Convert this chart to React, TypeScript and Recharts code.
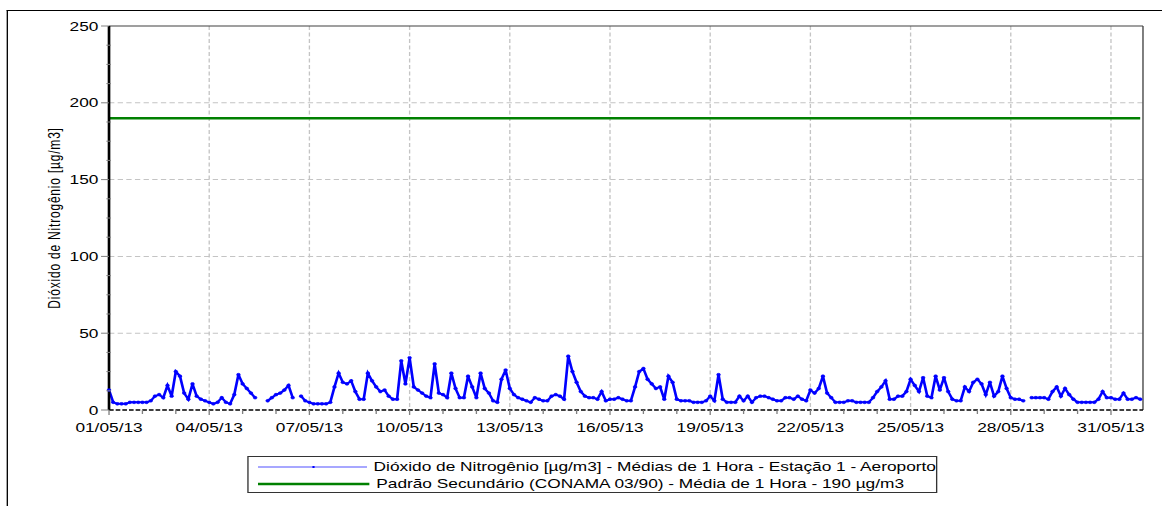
import { LineChart, Line, XAxis, YAxis, CartesianGrid, ReferenceLine } from 'recharts';

// the source image is stretched sideways, so the chart is drawn narrower and scaled in x
const W0 = 874;
const SX = 1162 / W0;
const FONT = '"Liberation Sans", Arial, sans-serif';

const STEP_HOURS = 3;
const LAST_HOUR = 743;
const LIMIT = 190;

const dateLabels = [
  '01/05/13', '04/05/13', '07/05/13', '10/05/13', '13/05/13', '16/05/13',
  '19/05/13', '22/05/13', '25/05/13', '28/05/13', '31/05/13',
];
const yTicks = [0, 12.5, 25, 37.5, 50, 62.5, 75, 87.5, 100, 112.5, 125, 137.5, 150, 162.5, 175, 187.5, 200, 212.5, 225, 237.5, 250];
const yGrid = [50, 100, 150, 200];
const dayTicks = Array.from({ length: 31 }, (_, d) => d * 24);
const majorDayTicks = dayTicks.filter((_, d) => d % 3 === 0);

// NO2, one value every 3 hours (00h, 03h, ... 21h), null = no data
const no2: (number | null)[] = [
  13, 5, 4, 4, 4, 5, 5, 5, // 01
  5, 5, 6, 9, 10, 8, 16, 9, // 02
  25, 22, 11, 7, 17, 9, 7, 6, // 03
  5, 4, 5, 8, 5, 4, 10, 23, // 04
  17, 14, 11, 8, null, null, 6, 8, // 05
  10, 11, 13, 16, 8, null, 9, 6, // 06
  5, 4, 4, 4, 4, 5, 15, 24, // 07
  18, 17, 19, 12, 7, 7, 24, 19, // 08
  15, 12, 13, 9, 7, 7, 32, 17, // 09
  34, 15, 13, 11, 9, 8, 30, 11, // 10
  10, 8, 24, 14, 8, 8, 22, 15, // 11
  8, 24, 14, 11, 6, 5, 20, 26, // 12
  14, 10, 8, 7, 6, 5, 8, 7, // 13
  6, 6, 9, 10, 9, 7, 35, 25, // 14
  18, 12, 9, 8, 8, 7, 12, 6, // 15
  7, 7, 8, 7, 6, 6, 15, 25, // 16
  27, 20, 17, 14, 15, 7, 22, 18, // 17
  7, 6, 6, 6, 5, 5, 5, 6, // 18
  9, 6, 23, 7, 5, 5, 5, 9, // 19
  6, 9, 5, 8, 9, 9, 8, 7, // 20
  6, 6, 8, 8, 7, 9, 7, 6, // 21
  13, 11, 14, 22, 11, 8, 5, 5, // 22
  5, 6, 6, 5, 5, 5, 5, 8, // 23
  12, 15, 19, 7, 7, 9, 9, 12, // 24
  20, 16, 12, 21, 9, 8, 22, 13, // 25
  21, 12, 7, 6, 6, 15, 12, 18, // 26
  20, 17, 10, 18, 9, 12, 22, 14, // 27
  8, 7, 7, 6, null, 8, 8, 8, // 28
  8, 7, 12, 15, 9, 14, 10, 7, // 29
  5, 5, 5, 5, 5, 7, 12, 8, // 30
  8, 7, 7, 11, 7, 7, 8, 7, // 31
];

const NO2_NAME = 'Dióxido de Nitrogênio [µg/m3] - Médias de 1 Hora - Estação 1 - Aeroporto';
const LIMIT_NAME = 'Padrão Secundário (CONAMA 03/90) - Média de 1 Hora - 190 µg/m3';
const Y_TITLE = 'Dióxido de Nitrogênio [µg/m3]';

const data = no2.map((v, i) => ({ hour: i * STEP_HOURS, no2: v, limit: LIMIT }));

const XTick = ({ x, y, payload }: any) => {
  const day = payload.value / 24;
  const major = day % 3 === 0;
  return (
    <g>
      <line x1={x} x2={x} y1={y} y2={y + (major ? 5 : 4)} stroke="#808080" />
      {major && (
        <text x={x} y={y + 22} textAnchor="middle" fontSize={13} fontFamily={FONT} fill="#000">
          {dateLabels[day / 3]}
        </text>
      )}
    </g>
  );
};

const YTick = ({ x, y, payload }: any) => {
  const major = payload.value % 50 === 0;
  return (
    <g>
      <line x1={major ? x - 6 : x - 2} x2={major ? x : x + 1.5} y1={y} y2={y} stroke="#808080" />
      {major && (
        <text x={x - 8} y={y} dy="0.35em" textAnchor="end" fontSize={13} fontFamily={FONT} fill="#000">
          {payload.value}
        </text>
      )}
    </g>
  );
};

const LegendBox = () => (
  <div
    style={{
      position: 'absolute',
      left: 186,
      top: 456,
      width: 519,
      height: 37,
      border: '1px solid #333',
      background: '#fff',
      fontFamily: FONT,
      fontSize: 13,
      color: '#000',
      boxSizing: 'border-box',
    }}
  >
    {[
      { name: NO2_NAME, color: '#5050ff', width: 1, dot: true },
      { name: LIMIT_NAME, color: '#008000', width: 2.5, dot: false },
    ].map((item, i) => (
      <div key={i} style={{ display: 'flex', alignItems: 'center', height: 17, marginTop: i === 0 ? 1 : 0 }}>
        <svg width={84} height={8} style={{ marginLeft: 7, marginRight: 5 }}>
          <line x1={0} x2={84} y1={4} y2={4} stroke={item.color} strokeWidth={item.width} />
          {item.dot && <rect x={41} y={3} width={1.6} height={2} fill="#0000ff" />}
        </svg>
        <span style={{ whiteSpace: 'nowrap', lineHeight: '17px' }}>{item.name}</span>
      </div>
    ))}
  </div>
);

export default function App() {
  return (
    <div style={{ position: 'absolute', left: 0, top: 0, width: 1162, height: 506, overflow: 'hidden', background: '#fff' }}>
      <div style={{ position: 'relative', width: W0, height: 506, transform: `scaleX(${SX})`, transformOrigin: '0 0' }}>
        <div
          style={{
            position: 'absolute',
            left: 4.5,
            top: 10,
            right: 0,
            bottom: 0,
            borderLeft: '1px solid #000',
            borderTop: '1px solid #000',
          }}
        />
        <LineChart width={W0} height={506} data={data} margin={{ top: 26, right: 14.3, bottom: 66, left: 0 }}>
          <CartesianGrid
            stroke="#c4c4c4"
            strokeDasharray="4 2.5"
            horizontalValues={yGrid}
            verticalValues={majorDayTicks}
          />
          <XAxis
            dataKey="hour"
            type="number"
            domain={[0, LAST_HOUR]}
            ticks={dayTicks}
            interval={0}
            tickLine={false}
            tickSize={0}
            tickMargin={0}
            height={30}
            axisLine={{ stroke: '#000', strokeWidth: 1.5, strokeDasharray: '3.5 1.5' }}
            tick={(p: any) => <XTick {...p} />}
          />
          <YAxis
            type="number"
            domain={[0, 250]}
            ticks={yTicks}
            interval={0}
            width={82}
            tickLine={false}
            tickSize={0}
            tickMargin={0}
            axisLine={{ stroke: '#000', strokeWidth: 2 }}
            tick={(p: any) => <YTick {...p} />}
            label={{
              value: Y_TITLE,
              angle: -90,
              position: 'center',
              dx: 0,
              style: { fontSize: 12, letterSpacing: 0.8, fontFamily: FONT, fill: '#000' },
            }}
          />
          <ReferenceLine y={250} stroke="#404040" />
          <ReferenceLine x={LAST_HOUR} stroke="#404040" />
          <Line
            dataKey="limit"
            stroke="#008000"
            strokeWidth={2.5}
            dot={false}
            isAnimationActive={false}
          />
          <Line
            dataKey="no2"
            stroke="#0000ff"
            strokeWidth={2}
            dot={{ r: 1.4, fill: '#0000ff', stroke: '#0000ff', strokeWidth: 0.5 }}
            connectNulls={false}
            isAnimationActive={false}
          />
        </LineChart>
        <LegendBox />
      </div>
    </div>
  );
}
